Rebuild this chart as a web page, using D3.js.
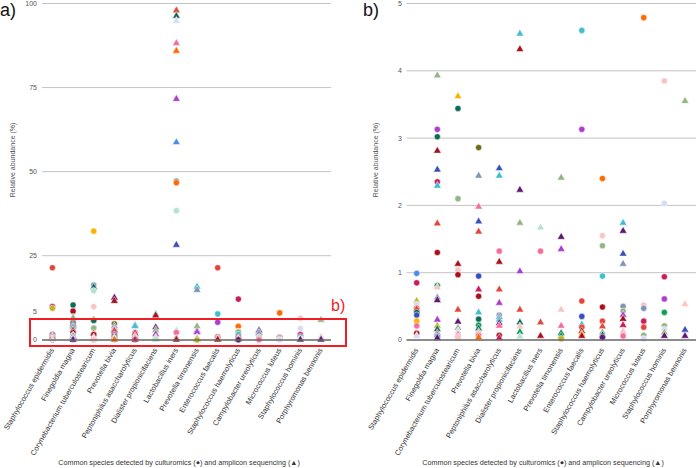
<!DOCTYPE html>
<html>
<head>
<meta charset="utf-8">
<script src="https://cdn.jsdelivr.net/npm/d3@7"></script>
<style>
  body { margin: 0; background: #fff; }
  svg { display: block; font-family: "Liberation Sans", Arial, sans-serif; }
</style>
</head>
<body>
<script>
// species on the x axis (same order in both panels)
const species = [
  "Staphylococcus epidermidis", "Finegoldia magna", "Corynebacterium tuberculostearicum",
  "Prevotella bivia", "Peptoniphilus asaccharolyticus", "Dialister propionicifaciens",
  "Lactobacillus iners", "Prevotella timonensis", "Enterococcus faecalis",
  "Staphylococcus haemolyticus", "Campylobacter ureolyticus", "Micrococcus luteus",
  "Staphylococcus hominis", "Porphyromonas bennonis"
]

// one colour per sample
const sampleColors = {
  P01: "#e2463b", P02: "#a8101b", P03: "#cc1a5c", P04: "#0d6b58", P05: "#109d58",
  P06: "#93b584", P07: "#b4e2cc", P08: "#3ebfcd", P09: "#3a4dbd", P10: "#4a8bf0",
  P11: "#8193b3", P12: "#ab3dd0", P13: "#5e1871", P14: "#f6b400", P15: "#c2b420",
  P16: "#6c6a14", P17: "#f46d9b", P18: "#f8c4c4", P19: "#d8dcf2", P20: "#ff6a00"
}

// relative abundance (%) by culturomics: [species index, value, sample]
const culturomics = [
  [0, 20.7, "P01"], [0, 6.8, "P03"], [0, 6.2, "P15"], [0, 0.99, "P10"], [0, 0.85, "P03"],
  [0, 0.53, "P19"], [0, 0.47, "P01"], [0, 0.41, "P04"], [0, 0.37, "P09"], [0, 0.28, "P14"],
  [0, 0.21, "P17"], [0, 0.1, "P02"],
  [1, 7.4, "P04"], [1, 5.2, "P02"], [1, 3.13, "P12"], [1, 3.02, "P04"], [1, 2.35, "P03"],
  [1, 1.30, "P02"], [1, 0.81, "P05"], [1, 0.05, "P10"],
  [2, 32.3, "P14"], [2, 14.5, "P11"], [2, 12.5, "P07"], [2, 6.8, "P18"], [2, 3.44, "P04"],
  [2, 2.10, "P06"], [2, 1.04, "P18"], [2, 0.97, "P02"], [2, 0.04, "P17"],
  [3, 2.86, "P16"], [3, 0.95, "P09"], [3, 0.65, "P02"], [3, 0.31, "P04"], [3, 0.22, "P05"],
  [3, 0.07, "P17"],
  [4, 1.32, "P17"], [4, 0.37, "P11"], [4, 0.07, "P02"],
  [6, 47.2, "P11"], [6, 46.7, "P20"], [6, 38.4, "P07"], [6, 1.32, "P17"],
  [7, 0.02, "P15"],
  [8, 20.7, "P01"], [8, 4.6, "P08"], [8, 3.13, "P12"], [8, 0.58, "P01"], [8, 0.35, "P09"],
  [8, 0.19, "P01"],
  [9, 9.5, "P03"], [9, 2.4, "P20"], [9, 1.55, "P18"], [9, 1.40, "P06"], [9, 0.95, "P08"],
  [9, 0.49, "P02"], [9, 0.28, "P01"], [9, 0.04, "P13"],
  [10, 0.5, "P11"], [10, 0.43, "P06"], [10, 0.06, "P17"],
  [11, 4.79, "P20"], [11, 0.52, "P18"], [11, 0.47, "P11"], [11, 0.28, "P03"], [11, 0.19, "P01"],
  [11, 0.07, "P06"], [11, 0.02, "P19"],
  [12, 3.85, "P18"], [12, 2.03, "P19"], [12, 0.94, "P03"], [12, 0.61, "P12"], [12, 0.41, "P05"],
  [12, 0.21, "P06"], [12, 0.16, "P19"]
]

// relative abundance (%) by amplicon sequencing: [species index, value, sample]
const amplicon = [
  [0, 0.58, "P15"], [0, 0.46, "P01"], [0, 0.06, "P19"],
  [1, 3.93, "P06"], [1, 2.81, "P02"], [1, 2.53, "P09"], [1, 2.29, "P08"], [1, 1.73, "P01"],
  [1, 0.78, "P18"], [1, 0.63, "P11"], [1, 0.59, "P13"], [1, 0.3, "P12"], [1, 0.21, "P15"],
  [1, 0.16, "P04"], [1, 0.1, "P01"], [1, 0.07, "P10"], [1, 0.03, "P13"],
  [2, 13.7, "P04"], [2, 3.62, "P14"], [2, 1.13, "P02"], [2, 0.45, "P01"], [2, 0.27, "P13"],
  [2, 0.18, "P06"], [2, 0.13, "P19"], [2, 0.08, "P17"], [2, 0.04, "P18"],
  [3, 10.0, "P13"], [3, 8.8, "P02"], [3, 2.44, "P11"], [3, 1.98, "P17"], [3, 1.76, "P09"],
  [3, 1.61, "P01"], [3, 0.75, "P03"], [3, 0.41, "P08"], [3, 0.17, "P04"], [3, 0.12, "P06"],
  [3, 0.09, "P18"], [3, 0.04, "P20"],
  [4, 2.55, "P09"], [4, 2.44, "P08"], [4, 1.16, "P02"], [4, 0.75, "P01"], [4, 0.55, "P12"],
  [4, 0.34, "P11"], [4, 0.3, "P08"], [4, 0.25, "P13"], [4, 0.21, "P17"], [4, 0.03, "P03"],
  [5, 4.55, "P08"], [5, 4.32, "P02"], [5, 2.23, "P13"], [5, 1.74, "P06"], [5, 1.02, "P12"],
  [5, 0.45, "P01"], [5, 0.26, "P04"], [5, 0.2, "P18"], [5, 0.12, "P05"], [5, 0.05, "P07"],
  [6, 97.9, "P01"], [6, 96.3, "P04"], [6, 94.8, "P19"], [6, 88.2, "P17"], [6, 85.9, "P20"],
  [6, 71.6, "P12"], [6, 58.7, "P10"], [6, 28.2, "P09"], [6, 1.67, "P07"], [6, 0.26, "P01"],
  [6, 0.06, "P02"],
  [7, 13.9, "P08"], [7, 12.75, "P11"], [7, 2.41, "P06"], [7, 1.53, "P13"], [7, 1.35, "P12"],
  [7, 0.45, "P18"], [7, 0.21, "P17"], [7, 0.1, "P04"], [7, 0.06, "P05"],
  [8, 0.23, "P08"], [8, 0.13, "P02"], [8, 0.09, "P14"], [8, 0.06, "P02"],
  [9, 0.2, "P01"], [9, 0.11, "P06"], [9, 0.07, "P04"],
  [10, 1.74, "P08"], [10, 1.62, "P13"], [10, 1.28, "P09"], [10, 1.13, "P11"], [10, 0.37, "P12"],
  [10, 0.31, "P02"], [10, 0.22, "P03"], [10, 0.13, "P18"],
  [12, 0.11, "P06"], [12, 0.06, "P13"],
  [13, 3.55, "P06"], [13, 0.53, "P18"], [13, 0.15, "P09"], [13, 0.06, "P13"]
]

const ticksA = [0, 5, 25, 50, 75, 100]
const ticksB = [0, 1, 2, 3, 4, 5]
const xTitle = "Common species detected by culturomics (\u25CF) and amplicon sequencing (\u25B2)"
const yTitle = "Relative abundance (%)"

const W = 696, H = 468
const svg = d3.select("body").append("svg").attr("width", W).attr("height", H)

const points = culturomics.map(d => ({sp: d[0], v: d[1], s: d[2], shape: "circle"}))
  .concat(amplicon.map(d => ({sp: d[0], v: d[1], s: d[2], shape: "triangle"})))
points.sort((a, b) => b.v - a.v)

const circleSym = d3.symbol().type(d3.symbolCircle).size(30)
const triSym = d3.symbol().type(d3.symbolTriangle).size(26)

function panel(opt) {
  const g = svg.append("g")
  const x = d3.scalePoint().domain(species.map((d, i) => i)).range(opt.xRange)
  const y = opt.y
  const [x0, x1] = opt.plot

  // gridlines
  g.selectAll("line.grid")
    .data(opt.grid)
    .enter().append("line")
    .attr("x1", x0).attr("x2", x1)
    .attr("y1", d => y(d)).attr("y2", d => y(d))
    .attr("stroke", "#c4c4c4").attr("stroke-width", 1)

  // tick labels
  g.selectAll("text.tick")
    .data(opt.ticks)
    .enter().append("text")
    .attr("x", opt.tickX).attr("y", d => y(d))
    .attr("dy", "0.35em")
    .attr("text-anchor", "end")
    .attr("font-size", 7)
    .attr("fill", "#555")
    .text(d => d)

  // points
  g.selectAll("path.pt")
    .data(points.filter(d => d.v <= opt.max))
    .enter().append("path")
    .attr("transform", d => `translate(${x(d.sp)}, ${y(d.v)})`)
    .attr("d", d => d.shape === "circle" ? circleSym() : triSym())
    .attr("fill", d => sampleColors[d.s])
    .attr("stroke", "#fff").attr("stroke-width", 0.5)

  // baseline
  g.append("line")
    .attr("x1", x0).attr("x2", x1)
    .attr("y1", y(0)).attr("y2", y(0))
    .attr("stroke", "#666").attr("stroke-width", 1.5)

  // species labels
  g.selectAll("text.sp")
    .data(species)
    .enter().append("text")
    .attr("transform", (d, i) => `translate(${x(i) + 2}, ${y(0) + 10}) rotate(-60)`)
    .attr("text-anchor", "end")
    .attr("font-size", 7.5)
    .attr("fill", "#333")
    .text(d => d)

  // axis titles
  g.append("text")
    .attr("transform", `translate(${opt.yTitleX}, 160) rotate(-90)`)
    .attr("text-anchor", "middle")
    .attr("font-size", 7)
    .attr("fill", "#555")
    .text(yTitle)
  g.append("text")
    .attr("x", opt.xTitleX).attr("y", 465)
    .attr("text-anchor", "middle")
    .attr("font-size", 7.2)
    .attr("fill", "#333")
    .text(xTitle)

  g.append("text")
    .attr("x", opt.labelX).attr("y", 16)
    .attr("font-size", 18)
    .attr("fill", "#111")
    .text(opt.label)

  return {x, y}
}

const yA = d3.scaleLinear().domain([0, 5, 25, 100]).range([340, 311.7, 255.7, 3.5])
const a = panel({
  xRange: [52.4, 321], plot: [42, 331], y: yA, max: 100,
  grid: [25, 50, 75, 100], ticks: ticksA, tickX: 37,
  yTitleX: 15, xTitleX: 179, label: "a)", labelX: 0
})

const yB = d3.scaleLinear().domain([0, 5]).range([340, 3.5])
panel({
  xRange: [416.7, 685], plot: [406.5, 696], y: yB, max: 5,
  grid: [1, 2, 3, 4, 5], ticks: ticksB, tickX: 402,
  yTitleX: 378, xTitleX: 543, label: "b)", labelX: 363
})

// red zoom box marking the range shown in b)
svg.append("rect")
  .attr("x", 30).attr("y", 319)
  .attr("width", 316).attr("height", 27)
  .attr("fill", "none")
  .attr("stroke", "#f01e23").attr("stroke-width", 2)
svg.append("text")
  .attr("x", 331).attr("y", 311)
  .attr("font-size", 16)
  .attr("fill", "#f01e23")
  .text("b)")
</script>
</body>
</html>
